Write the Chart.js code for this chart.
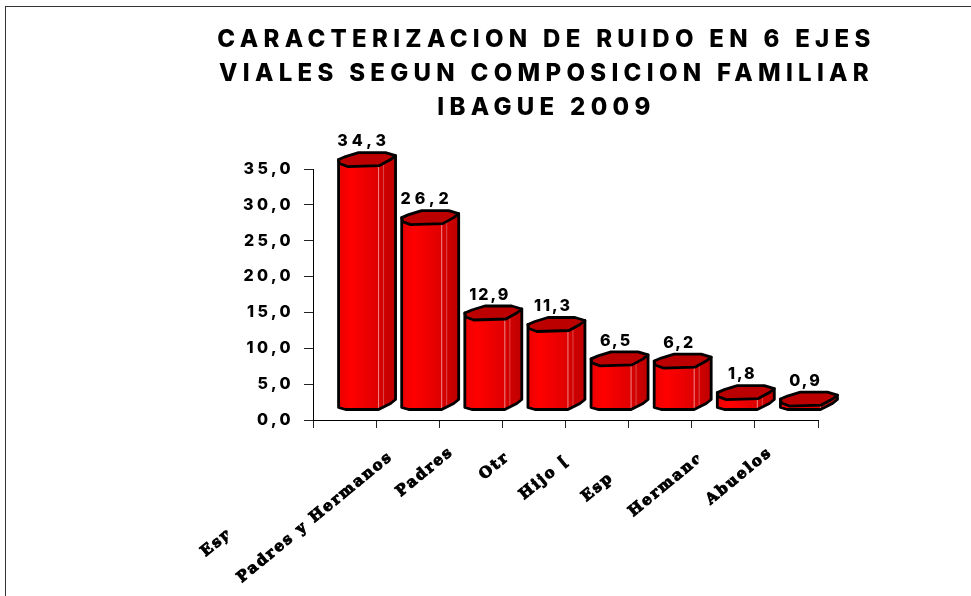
<!DOCTYPE html>
<html>
<head>
<meta charset="utf-8">
<script src="https://cdn.jsdelivr.net/npm/chart.js@4/dist/chart.umd.min.js"></script>
<style>
  html, body { margin: 0; padding: 0; background: #fff; }
  #frame { position: absolute; left: 5px; top: 6px; right: 0; bottom: 0; border-top: 1px solid #333; border-left: 1px solid #333; }
  #wrap { position: absolute; left: 0; top: 0; width: 971px; height: 596px; }
</style>
</head>
<body>
<div id="frame"></div>
<div id="wrap"><canvas id="chart" width="971" height="596"></canvas></div>
<script>
const titleLines = ["CARACTERIZACION DE RUIDO EN 6 EJES", "VIALES SEGUN COMPOSICION FAMILIAR", "IBAGUE 2009"];
const categories = ["Esp", "Padres y Hermanos", "Padres", "Otr", "Hijo [", "Esp", "Hermanos", "Abuelos"];
const values = [34.3, 26.2, 12.9, 11.3, 6.5, 6.2, 1.8, 0.9];
const yTicks = ["0,0", "5,0", "10,0", "15,0", "20,0", "25,0", "30,0", "35,0"];

// where each slanted label starts, relative to its category centre and the axis,
// and how far right it shows (the original clips them)
const labelStart = [[-139, 137], [-166, 163], [-70, 77], [-50, 60], [-73, 80], [-74, 82], [-90, 97], [-76, 85]];
const labelClip = [22, 149, 200, 30, 53, 37, 65, 200];

const slant = 39.5 * Math.PI / 180;

function outline(ctx, pts) {
  ctx.beginPath();
  pts.forEach((p, i) => (i ? ctx.lineTo(p[0], p[1]) : ctx.moveTo(p[0], p[1])));
}

function bar3d(ctx, bar, value) {
  const L = bar.x - bar.width / 2 + 14.5;   // left edge of the front face
  const T = bar.y - 14.5;                   // left corner of the top face
  const B = bar.base - 10;                  // bottom of the front face
  const R = L + 57;
  const edge = L + 40;                      // where front turns into side
  const low = (y, min) => Math.max(y, min);

  const body = [[L, T], [L, B - 2], [L + 7, B], [edge, B], [R - 5, low(B - 6, T + 2)], [R, low(B - 10, T - 2)], [R, T - 4]];
  const side = [[edge, T + 6], [R, T - 4], [R, low(B - 10, T - 2)], [R - 5, low(B - 6, T + 2)], [edge, B]];
  const top = [[L, T], [L + 7, T - 3], [L + 20, T - 7], [L + 47, T - 7], [R, T - 4], [L + 52, T], [L + 41, T + 6], [L + 9, T + 7], [L + 1, T + 4]];

  const g = ctx.createLinearGradient(L, 0, edge, 0);
  g.addColorStop(0, "#ea0000");
  g.addColorStop(0.3, "#ff0000");
  g.addColorStop(1, "#de0000");
  const s = ctx.createLinearGradient(edge, 0, R, 0);
  s.addColorStop(0, "#d80000");
  s.addColorStop(1, "#be0000");

  ctx.save();
  ctx.lineJoin = "round";
  ctx.lineCap = "round";
  ctx.strokeStyle = "#000";

  outline(ctx, body);
  ctx.closePath();
  ctx.fillStyle = g;
  ctx.fill();

  outline(ctx, side);
  ctx.closePath();
  ctx.fillStyle = s;
  ctx.fill();

  // light seam lines on the cylinder
  ctx.lineWidth = 1;
  ctx.strokeStyle = "#f08a8a";
  ctx.beginPath();
  ctx.moveTo(edge, T + 7);
  ctx.lineTo(edge, B - 2);
  ctx.stroke();
  ctx.strokeStyle = "#dc4a4a";
  ctx.beginPath();
  ctx.moveTo(edge + 5, T + 4);
  ctx.lineTo(edge + 5, B - 4);
  ctx.stroke();

  ctx.lineWidth = 2.8;
  ctx.strokeStyle = "#000";
  outline(ctx, body);
  ctx.stroke();

  outline(ctx, top);
  ctx.closePath();
  ctx.fillStyle = "#bc0000";
  ctx.fill();
  ctx.stroke();

  // value on top
  ctx.fillStyle = "#000";
  ctx.font = '800 16px "Inter"';
  ctx.textAlign = "center";
  ctx.textBaseline = "middle";
  ctx.letterSpacing = value >= 20 ? "4px" : "2px";
  ctx.fillText(value.toFixed(1).replace(".", ","), L + 25, T - 18);
  ctx.restore();
}

const cylinders = {
  id: "cylinders",
  beforeDraw(chart) {
    chart.ctx.letterSpacing = "5.3px";   // title
  },
  afterDatasetsDraw(chart) {
    const meta = chart.getDatasetMeta(0);
    meta.data.forEach((bar, i) => bar3d(chart.ctx, bar, values[i]));
    chart.ctx.letterSpacing = "3.4px";   // y tick labels, drawn after this
  },
  afterDraw(chart) {
    const ctx = chart.ctx;
    const x = chart.scales.x;
    categories.forEach((text, i) => {
      const sx = x.getPixelForValue(i) + labelStart[i][0];
      const sy = chart.chartArea.bottom + labelStart[i][1];
      ctx.save();
      ctx.beginPath();
      ctx.rect(0, 0, sx + labelClip[i], 596);
      ctx.clip();
      ctx.translate(sx, sy);
      ctx.rotate(-slant);
      ctx.filter = "blur(0.7px)";
      ctx.letterSpacing = "2px";
      ctx.font = 'bold 15px "DejaVu Serif"';
      ctx.fillStyle = "#000";
      ctx.strokeStyle = "#000";
      ctx.lineWidth = 1;
      ctx.textAlign = "left";
      ctx.textBaseline = "alphabetic";
      ctx.fillText(text, 0, 0);
      ctx.strokeText(text, 0, 0);
      ctx.restore();
    });
  }
};

new Chart(document.getElementById("chart"), {
  type: "bar",
  data: {
    labels: categories,
    datasets: [{ data: values, backgroundColor: "transparent", barThickness: 41 }]
  },
  options: {
    responsive: false,
    animation: false,
    layout: { padding: { left: 122, right: 0, top: 0, bottom: 0 } },
    plugins: {
      legend: { display: false },
      tooltip: { enabled: false },
      title: {
        display: true,
        text: titleLines,
        color: "#000",
        font: { family: "Inter", size: 24, weight: 800, lineHeight: 1.42 },
        padding: { top: 23, bottom: 43.8 }
      }
    },
    scales: {
      x: {
        afterFit(scale) { scale.height = 176; },
        border: { color: "#000", width: 1 },
        grid: { drawOnChartArea: false, tickLength: 8, color: "#222" },
        ticks: { display: false }
      },
      y: {
        min: 0,
        max: 35,
        afterFit(scale) { scale.width = 191; },
        border: { color: "#000", width: 1 },
        grid: { drawOnChartArea: false, tickLength: 9, color: "#222" },
        ticks: {
          z: 1,
          stepSize: 5,
          padding: 10,
          color: "#000",
          font: { family: "Inter", size: 16, weight: 800 },
          callback: (v, i) => yTicks[i]
        }
      },
      // empty axis, only keeps the plot clear of the right side
      yRight: {
        position: "right",
        afterFit(scale) { scale.width = 153; },
        border: { display: false },
        grid: { display: false },
        ticks: { display: false }
      }
    }
  },
  plugins: [cylinders]
});
</script>
</body>
</html>
